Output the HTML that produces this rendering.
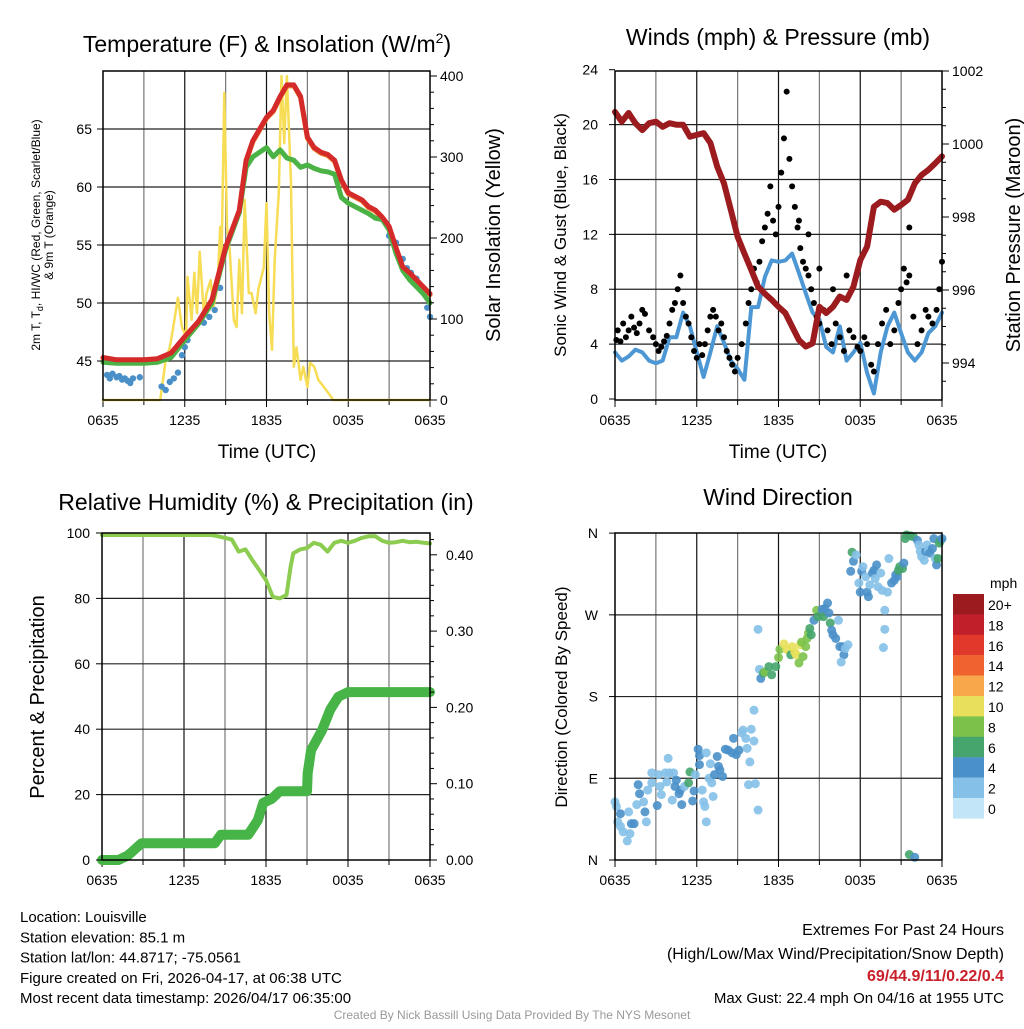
<!DOCTYPE html>
<html><head><meta charset="utf-8"><style>
body{margin:0;background:#fff}
svg text{font-family:"Liberation Sans",Arial,sans-serif;fill:#000}
</style></head><body>
<svg id="c" width="1024" height="1024" viewBox="0 0 1024 1024"></svg>
<script>
// ---------- DATA ----------
const xTickLabels=["0635","1235","1835","0035","0635"];
// Panel 1
const tempT=[0,1,2,3,4,5,6,7,8,9,10,10.5,11,12,12.5,13,13.5,14,14.5,15,15.5,16,16.5,17,17.5,18,19,19.5,20,20.5,21,21.5,22,22.5,23,23.5,24];
const tempRed=[45.3,45.1,45.1,45.1,45.2,45.7,47.1,48.4,50.3,54.8,58,62.3,64,66,66.6,67.8,68.8,68.8,67.8,64.3,63.4,63,62.8,62.3,60.6,59.5,58.9,58.3,58,57.4,56.6,54.8,53.1,52.6,52,51.4,50.8];
const tempGreen=[44.9,44.8,44.8,44.8,44.9,45.3,46.8,48.2,50,54.6,57.8,61.7,62.6,63.4,62.6,63.2,62.5,62.3,61.7,61.9,61.6,61.4,61.3,61.1,59.1,58.6,58,57.7,57.3,57.2,56.3,54.3,52.8,52,51.4,50.8,50];
const dewT=[0.3,0.5,0.7,1.0,1.2,1.4,1.6,1.8,2.0,2.2,2.7,4.3,4.6,4.9,5.2,5.5,5.8,6.0,6.2,7.4,7.8,8.2,8.6,21.0,21.5,22.0,22.3,22.6,23.0,23.5,23.8,24.0];
const dewV=[43.8,43.5,43.9,43.6,43.7,43.4,43.5,43.3,43.1,43.5,43.6,42.8,42.5,43.2,43.5,44.0,45.5,46.2,46.8,48.3,48.8,49.4,51.3,55.8,55.2,53.8,53.0,52.6,52.1,51.0,49.6,48.8];
const solT=[0,4.2,4.6,4.9,5.2,5.5,5.8,6.1,6.2,6.5,6.7,6.9,7.1,7.4,7.6,7.9,8.1,8.4,8.6,8.7,8.9,9.1,9.3,9.6,9.8,10.0,10.2,10.4,10.7,10.9,11.2,11.4,11.8,12.0,12.2,12.4,12.6,12.9,13.1,13.3,13.5,13.8,14.0,14.2,14.5,14.7,15.0,15.2,15.5,15.8,16.4,16.9,24];
const solV=[0,0,49,65,95,126,90,78,152,99,157,107,183,107,132,148,115,140,214,173,379,214,185,99,90,173,107,247,132,132,107,136,164,243,107,62,173,256,400,317,400,268,41,65,25,41,16,46,41,25,12,0,0];
// Panel 2
const presT=[0,0.5,1,1.5,2,2.5,3,3.5,4,4.5,5,5.5,6,6.5,7,7.5,8,8.5,9,9.5,10,10.5,11,11.5,12,12.5,13,13.5,14,14.5,15,15.5,16,16.5,17,17.5,18,18.5,19,19.5,20,20.5,21,21.5,22,22.5,23,23.5,24];
const presV=[1000.88,1000.61,1000.85,1000.57,1000.38,1000.57,1000.61,1000.47,1000.57,1000.53,1000.53,1000.2,1000.25,1000.3,1000.03,999.38,998.92,998.2,997.46,997.0,996.55,996.09,995.9,995.73,995.54,995.37,995.0,994.63,994.45,994.54,995.54,995.37,995.54,995.82,995.73,996.09,996.82,997.19,998.28,998.42,998.38,998.2,998.33,998.47,998.92,999.15,999.29,999.47,999.66];
const windV=[3.4,2.8,3.1,3.6,3.4,2.8,2.6,2.8,4.5,4.5,6.3,5.3,3.4,1.6,3.4,5.3,4.1,2.8,2.2,1.4,6.7,6.7,8.9,10.1,10,10.1,10.6,9.2,7.7,6.3,5.8,3.8,3.4,5.3,2.8,3.4,4.1,1.9,0.4,3.4,5.3,6.3,4.8,3.4,2.8,3.4,4.8,5.3,6.3];
const gustT=[0.1,0.2,0.4,0.6,0.8,1.0,1.2,1.4,1.6,1.8,2.0,2.2,2.5,2.8,3.0,3.2,3.4,3.6,3.8,4.0,4.2,4.4,4.6,4.8,5.0,5.2,5.4,5.6,5.8,6.0,6.2,6.4,6.6,6.8,7.0,7.2,7.4,7.6,7.8,8.0,8.2,8.4,8.6,8.8,9.0,9.3,9.6,9.8,10.0,10.2,10.4,10.6,10.8,11.0,11.2,11.4,11.6,11.8,12.0,12.2,12.4,12.6,12.8,13.0,13.2,13.4,13.6,13.8,14.0,14.2,14.4,14.6,14.8,15.0,15.3,15.6,15.9,16.2,16.5,16.8,17.0,17.2,17.5,17.8,18.0,18.3,18.5,18.8,19.0,19.3,19.6,19.9,20.2,20.5,20.8,21.0,21.2,21.4,21.6,21.9,22.2,22.5,22.8,23.0,23.3,23.6,23.8,24.0,13.5,14.2,15.0,16.0,21.6];
const gustV=[4.3,5,4.2,5.5,4.5,5.0,6.0,5.2,4.8,5.5,6.5,6.2,5.0,4.5,4.0,3.5,3.8,4.2,4.6,5.5,6.5,7.0,8.0,9.0,7.0,6.0,5.5,4.5,3.5,3.0,4.0,3.2,4.0,5.0,6.0,6.5,6.0,5.0,5.5,4.5,3.5,3.0,2.5,2.0,3.0,4.0,5.5,7.0,8.0,9.5,8.5,10.0,11.5,12.5,13.5,15.5,13.0,12.0,14.0,16.5,19.0,22.4,17.5,15.5,14.0,12.5,11.0,10.0,9.5,9.0,8.0,7.0,6.0,5.5,6.5,5.0,4.0,5.5,4.5,3.5,9.0,5.0,4.5,3.8,3.5,4.5,4.0,2.5,2.0,4.0,5.5,6.5,4.0,5.0,7.0,8.0,9.5,8.5,9.0,6.0,4.0,5.0,6.5,6.0,5.5,6.5,8.0,10.0,13,12,9.5,8.0,12.5];
// Panel 3
const rhT=[0,8,8.5,9,9.5,10,10.5,11,11.5,12,12.5,13,13.5,13.8,14,14.5,15,15.5,16,16.5,17,17.5,18,18.5,19,19.5,20,20.5,21,21.5,22,22.5,23,24];
const rhV=[99.4,99.4,99,98.5,98,94.3,95,91.7,88.7,85.6,80.5,80,81,89.7,93.8,95,95.4,97,96.4,94.3,97,97.6,97,97.6,98.5,99,99,97.6,97,97.2,97.6,97.2,97.3,96.8];
const prT=[0,1.2,1.9,2.9,8.25,8.7,10.7,11.4,11.8,12.4,13,15,15.05,15.3,16.1,16.7,17.3,18,24];
const prV=[0,0,0.006,0.022,0.022,0.033,0.033,0.052,0.075,0.08,0.09,0.09,0.114,0.144,0.17,0.197,0.214,0.22,0.22];
// Panel 4
const dirT=[0,0.1,0.4,1.0,0.2,0.4,0.6,1.2,1.4,1.1,0.9,1.6,1.7,1.8,2.1,2.2,2.3,2.4,2.7,2.7,3.1,3.2,3.3,3.4,3.7,3.8,3.9,4.0,4.2,4.3,4.4,4.5,4.7,4.8,4.9,5.1,5.4,5.5,5.7,5.8,5.9,6.1,6.2,6.2,6.4,6.5,6.6,6.7,6.7,6.9,7.0,7.1,7.2,7.3,7.5,7.6,7.7,7.9,8.1,8.3,8.6,8.7,8.9,9.1,9.3,9.4,9.6,9.7,9.8,9.9,10.0,10.2,10.2,10.3,10.5,10.5,10.6,10.7,10.9,11.0,11.3,11.5,11.8,12.0,12.1,12.4,12.6,12.9,13.0,13.2,13.3,13.5,13.6,13.7,13.8,14.0,14.1,14.2,14.3,14.4,14.6,14.8,14.9,15.2,15.3,15.4,15.6,15.7,15.8,15.9,16.0,16.2,16.4,16.5,16.7,16.8,16.9,17.1,16.6,17.3,17.4,17.5,17.7,17.9,18.0,18.1,18.2,18.4,18.5,18.6,18.7,18.9,19.0,19.1,19.2,19.3,19.5,19.6,19.8,19.8,19.7,20.0,20.1,20.3,20.5,20.6,20.7,20.8,20.9,21.1,21.2,21.3,21.4,21.7,21.9,22.2,22.3,22.4,22.5,22.7,22.8,22.9,23.0,23.1,23.3,23.4,23.5,23.6,23.7,23.8,23.9,24.0,21.6,22.0];
const dirV=[64,59,51,53,42,37,31,40,40,29,21,61,83,73,64,53,42,77,96,85,60,94,81,72,96,86,112,96,66,96,81,88,73,77,61,81,85,97,65,76,94,122,115,105,77,64,59,118,42,90,106,85,70,94,114,103,99,92,122,121,118,134,116,121,140,143,134,123,83,108,144,165,131,84,55,254,210,200,206,207,213,204,213,223,232,238,232,226,235,229,226,217,237,240,224,235,244,250,255,248,264,275,268,276,268,277,283,272,261,253,248,244,264,235,235,226,233,237,218,318,339,329,336,305,295,318,323,312,295,290,303,316,319,310,325,301,316,297,275,254,234,295,332,305,308,314,312,319,323,321,327,354,358,357,356,352,347,340,334,330,340,347,341,338,343,354,332,325,332,349,352,354,6,3];
const dirSpd=[2.5,2.5,4,2.5,2.5,2.5,2.5,4,4,2.5,2.5,2.5,4,4,2.5,4,2.5,2.5,2.5,2.5,4,2.5,2.5,2.5,2.5,2.5,2.5,2.5,2.5,2.5,4,4,4,4,4,2.5,6.5,6.5,4,4,2.5,4,4,4,2.5,2.5,2.5,1,1,2.5,1,2.5,2.5,4,4,4,4,4,4,4,4,4,4,4,2.5,2.5,2.5,2.5,2.5,2.5,1,1,1,1,1,1,1,4,6.5,8.5,6.5,6.5,6.5,8.5,8.5,10.5,10.5,6.5,10.5,10.5,10.5,8.5,10.5,8.5,8.5,8.5,8.5,8.5,6.5,6.5,4,8.5,6.5,4,6.5,4,4,4,6.5,4,4,4,2.5,4,4,4,2.5,2.5,2.5,4,6.5,4,2.5,2.5,4,4,2.5,2.5,4,4,2.5,4,4,2.5,4,2.5,1,2.5,2.5,1,1,2.5,2.5,4,4,4,4,6.5,6.5,6.5,4,6.5,6.5,6.5,6.5,4,2.5,2.5,2.5,2.5,4,2.5,2.5,4,4,4,2.5,4,6.5,6.5,6.5,4,6.5,4];
const cbLabels=["20+","18","16","14","12","10","8","6","4","2","0"];
const cbColors=["#9b1b1f","#c1202a","#e0392c","#f0632e","#f8a84a","#e8e05a","#7cc24a","#45a56d","#4a90c9","#84c0e8","#c2e6f8"];

// ---------- DRAW ----------
const svg=document.getElementById('c');const NS="http://www.w3.org/2000/svg";
function mk(tag,attrs,parent){const e=document.createElementNS(NS,tag);for(const k in attrs)e.setAttribute(k,attrs[k]);(parent||svg).appendChild(e);return e;}
function txt(s,x,y,size,anchor,parent,extra){const e=mk('text',Object.assign({x:x,y:y,'font-size':size,'text-anchor':anchor||'start'},extra||{}),parent);e.textContent=s;return e;}
function panel(name,x0,y0,w,h){const g=mk('g',{});
  const P={g,x0,y0,w,h,sx:t=>x0+t/24*w};
  for(let k=1;k<8;k++){const x=P.sx(k*3);mk('line',{x1:x,y1:y0,x2:x,y2:y0+h,stroke:k%2?'#777':'#111','stroke-width':1.2},g);}
  for(let k=0;k<=8;k++){const x=P.sx(k*3);mk('line',{x1:x,y1:y0+h,x2:x,y2:y0+h+(k%2?5:7),stroke:'#000','stroke-width':1},g);}
  for(let k=0;k<5;k++){const l=txt(xTickLabels[k],P.sx(k*6),y0+h+25,14,'middle',g);}
  return P;}
function frame(P){mk('rect',{x:P.x0,y:P.y0,width:P.w,height:P.h,fill:'none',stroke:'#000','stroke-width':1.5},P.g);}
function hgrid(P,ys){ys.forEach(y=>mk('line',{x1:P.x0,y1:y,x2:P.x0+P.w,y2:y,stroke:'#222','stroke-width':1.2},P.g));}
function poly(P,ts,vs,sy,style,name){const pts=ts.map((t,i)=>P.sx(t).toFixed(1)+','+sy(vs[i]).toFixed(1)).join(' ');
  const e=mk('polyline',Object.assign({points:pts,fill:'none','stroke-linejoin':'round','stroke-linecap':'round'},style),P.g);return e;}
function leftTicks(P,vals,sy,labels,lx){vals.forEach((v,i)=>{const y=sy(v);mk('line',{x1:P.x0-6,y1:y,x2:P.x0,y2:y,stroke:'#000'},P.g);const l=txt(labels[i],lx,y+5,14,'end',P.g);});}
function rightTicks(P,vals,sy,labels,lx,minors){const xr=P.x0+P.w;(minors||[]).forEach(v=>{const y=sy(v);mk('line',{x1:xr,y1:y,x2:xr+4,y2:y,stroke:'#000'},P.g);});
  vals.forEach((v,i)=>{const y=sy(v);mk('line',{x1:xr,y1:y,x2:xr+7,y2:y,stroke:'#000'},P.g);const l=txt(labels[i],lx,y+5,14,'start',P.g);});}
function rot(s,x,y,size,parent,name){const e=txt(s,x,y,size,'middle',parent,{transform:`rotate(-90 ${x} ${y})`});return e;}
function title(s,x,y,parent,name){const e=txt(s,x,y,23,'middle',parent);return e;}

// Panel 1
(function(){const P=panel('temperature-panel',103,71,327,329);
 const sy=v=>361-(v-45)*11.6, sy2=v=>400-v*0.81;
 hgrid(P,[45,50,55,60,65].map(sy));
 poly(P,solT,solV,sy2,{stroke:'#f7dd55','stroke-width':2.5},'insolation-line');
 for(let i=0;i<dewT.length;i++){const c=mk('circle',{cx:P.sx(dewT[i]),cy:sy(dewV[i]),r:3.2,fill:'#4a8fc8'},P.g);}
 poly(P,tempT,tempRed,v=>sy(v)+1,{stroke:'#f08a30','stroke-width':5},'9m-temp-line');
 poly(P,tempT,tempGreen,sy,{stroke:'#4bb246','stroke-width':5},'heat-index-line');
 poly(P,tempT,tempRed,sy,{stroke:'#d42a2a','stroke-width':5},'temperature-line');
 frame(P);
 leftTicks(P,[45,50,55,60,65],sy,['45','50','55','60','65'],92);
 const minors=[];for(let v=20;v<=400;v+=20)if(v%100)minors.push(v);
 rightTicks(P,[0,100,200,300,400],sy2,['0','100','200','300','400'],440,minors);
 const t=title('',267,52,P.g,'temperature-title');t.innerHTML='Temperature (F) &amp; Insolation (W/m<tspan dy="-9" font-size="14">2</tspan><tspan dy="9">)</tspan>';
 const xl=txt('Time (UTC)',267,458,19,'middle',P.g);
 const yl=rot('',40,235,12,P.g,'y-axis-title');yl.innerHTML='2m T, T<tspan dy="3" font-size="9">d</tspan><tspan dy="-3">, HI/WC (Red, Green, Scarlet/Blue)</tspan>';
 rot('& 9m T (Orange)',53,235,12,P.g,'y-axis-title-line2');
 rot('Solar Insolation (Yellow)',500,235,20,P.g,'y2-axis-title');
})();

// Panel 2
(function(){const P=panel('winds-panel',615,71,327,329);
 const sy=v=>399-v*13.72, sy2=v=>144+(1000-v)*36.5;
 hgrid(P,[4,8,12,16,20].map(sy));
 poly(P,presT,windV,sy,{stroke:'#4d98d4','stroke-width':4},'sonic-wind-line');
 for(let i=0;i<gustT.length;i++){const c=mk('circle',{cx:P.sx(gustT[i]),cy:sy(gustV[i]),r:3,fill:'#000'},P.g);}
 poly(P,presT,presV,sy2,{stroke:'#9b1b1f','stroke-width':6},'pressure-line');
 frame(P);
 leftTicks(P,[0,4,8,12,16,20,24],sy,['0','4','8','12','16','20','24'],598);
 rightTicks(P,[994,996,998,1000,1002],sy2,['994','996','998','1000','1002'],952,[993.5,994.5,995,995.5,996.5,997,997.5,998.5,999,999.5,1000.5,1001,1001.5]);
 title('Winds (mph) & Pressure (mb)',778,45,P.g,'winds-title');
 const xl=txt('Time (UTC)',778,458,19,'middle',P.g);
 rot('Sonic Wind & Gust (Blue, Black)',566,235,17,P.g,'y-axis-title');
 rot('Station Pressure (Maroon)',1020,235,20,P.g,'y2-axis-title');
})();

// Panel 3
(function(){const P=panel('humidity-panel',102,533,328,327);
 const sy=v=>860-v*3.27, sy2=v=>860-v*763;
 hgrid(P,[20,40,60,80].map(sy));
 poly(P,prT,prV,sy2,{stroke:'#46b446','stroke-width':10},'precipitation-line');
 poly(P,rhT,rhV,sy,{stroke:'#8ccc50','stroke-width':4},'humidity-line');
 frame(P);
 leftTicks(P,[0,20,40,60,80,100],sy,['0','20','40','60','80','100'],90);
 rightTicks(P,[0,0.1,0.2,0.3,0.4],sy2,['0.00','0.10','0.20','0.30','0.40'],446,[0.02,0.04,0.06,0.08,0.12,0.14,0.16,0.18,0.22,0.24,0.26,0.28,0.32,0.34,0.36,0.38,0.42]);
 title('Relative Humidity (%) & Precipitation (in)',266,510,P.g,'humidity-title');
 rot('Percent & Precipitation',44,697,20,P.g,'y-axis-title');
})();

// Panel 4
(function(){const P=panel('wind-direction-panel',615,533,327,327);
 const sy=v=>860-v*0.908;
 hgrid(P,[90,180,270].map(sy));
 const cmap=s=>cbColors[10-Math.min(10,Math.floor((s+1)/2))];
 for(let i=0;i<dirT.length;i++){const c=mk('circle',{cx:P.sx(dirT[i]),cy:sy(dirV[i]),r:4.5,fill:cmap(dirSpd[i]),'fill-opacity':0.9},P.g);}
 frame(P);
 leftTicks(P,[0,90,180,270,360],sy,['N','E','S','W','N'],598);
 title('Wind Direction',778,505,P.g,'wind-direction-title');
 rot('Direction (Colored By Speed)',567,697,17,P.g,'y-axis-title');
 const cb=mk('g',{},P.g);
 txt('mph',990,588,14,'start',cb);
 for(let i=0;i<11;i++){const y=594+i*20.4;mk('rect',{x:953,y:y,width:31,height:20.6,fill:cbColors[i]},cb);const l=txt(cbLabels[i],988,y+16,14,'start',cb);}
})();

// Footer text
const info=mk('g',{});
["Location: Louisville","Station elevation: 85.1 m","Station lat/lon: 44.8717; -75.0561","Figure created on Fri, 2026-04-17, at 06:38 UTC","Most recent data timestamp: 2026/04/17 06:35:00"].forEach((s,i)=>txt(s,20,922+i*20.3,15,'start',info));
const ex=mk('g',{});
txt('Extremes For Past 24 Hours',1004,935,16,'end',ex);
txt('(High/Low/Max Wind/Precipitation/Snow Depth)',1004,959,16,'end',ex);
txt('69/44.9/11/0.22/0.4',1004,981,16,'end',ex,{'font-weight':'bold',style:'fill:#c8202a'});
txt('Max Gust: 22.4 mph On 04/16 at 1955 UTC',1004,1003,15,'end',ex);
const cr=txt('Created By Nick Bassill Using Data Provided By The NYS Mesonet',512,1019,12,'middle',null,{style:'fill:#999'});

</script>
</body></html>
